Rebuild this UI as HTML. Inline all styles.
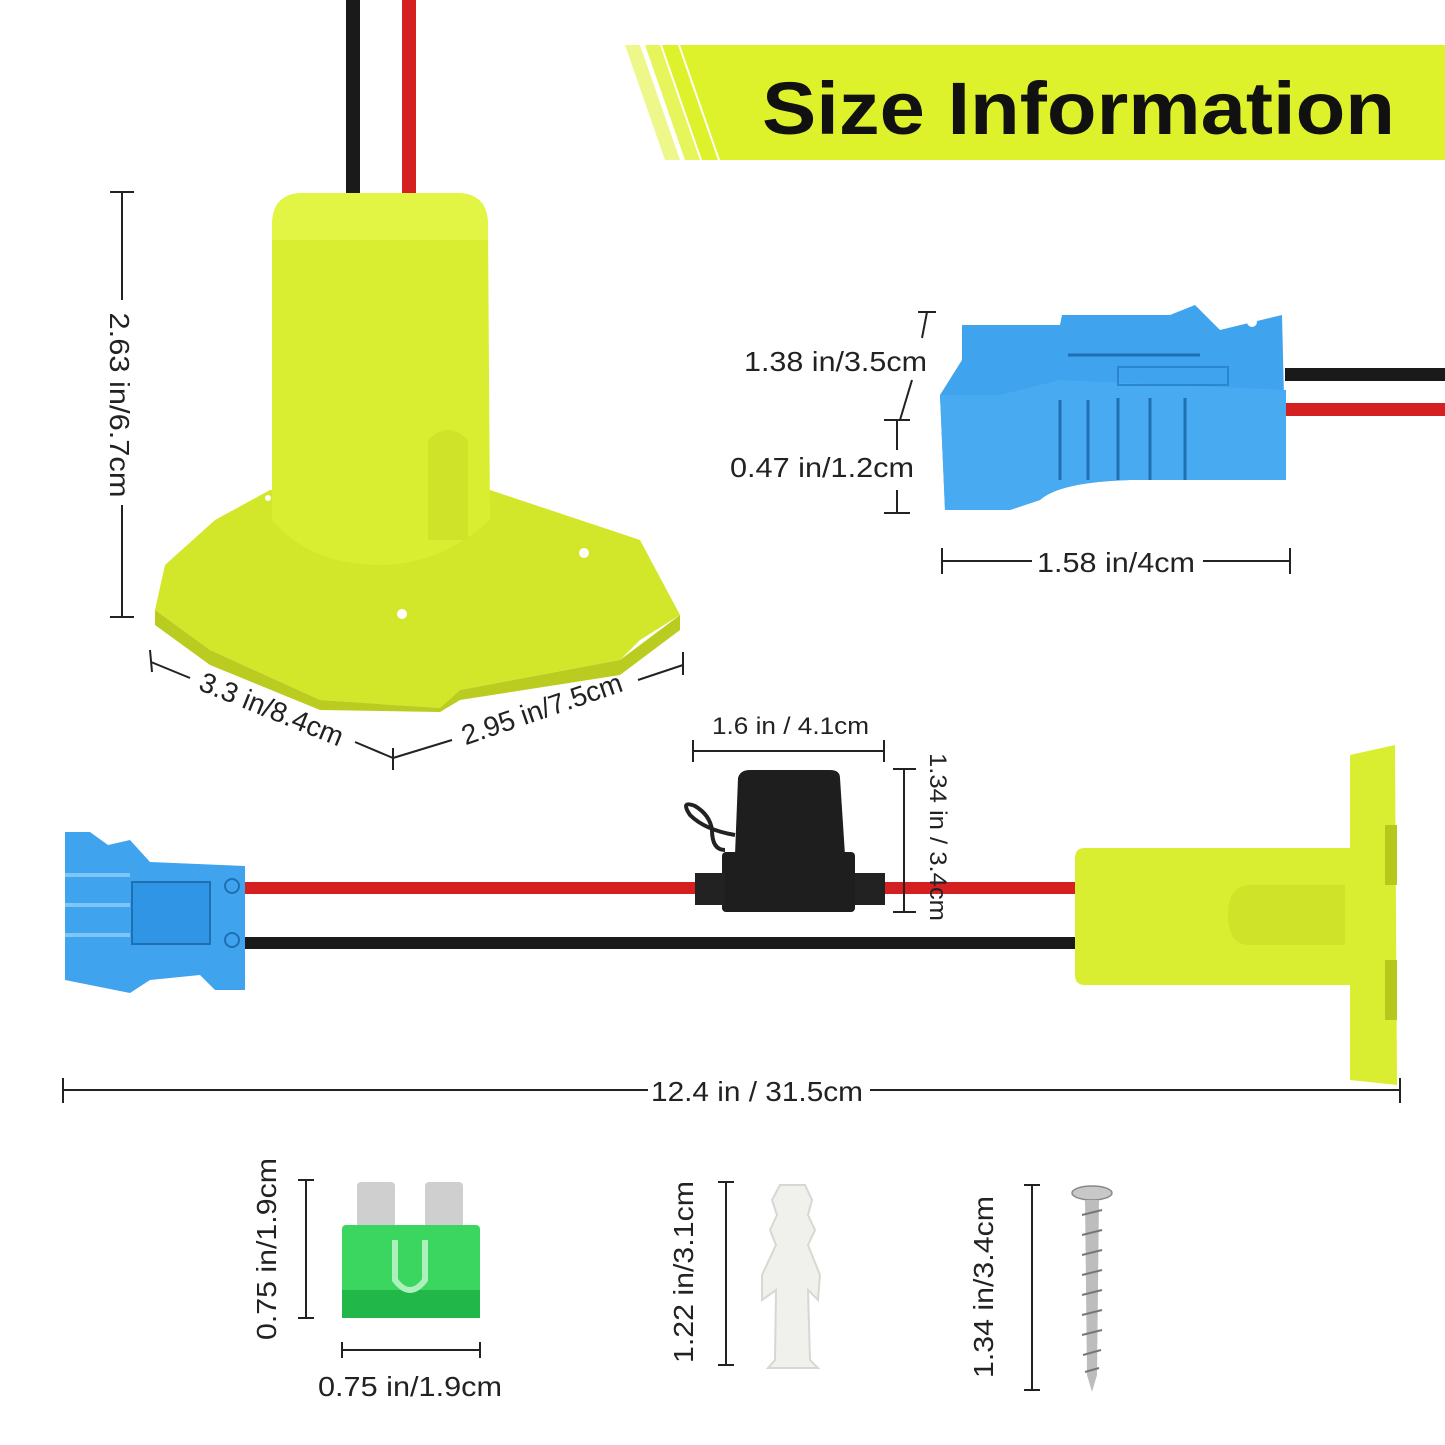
<!DOCTYPE html>
<html><head><meta charset="utf-8"><style>
html,body{margin:0;padding:0;background:#fff;}
svg{display:block;}
text{font-family:"Liberation Sans",sans-serif;fill:#222;}
</style></head><body>
<svg width="1445" height="1445" viewBox="0 0 1445 1445" xmlns="http://www.w3.org/2000/svg">
<!-- Banner -->
<polygon points="680,45 1445,45 1445,160 720,160" fill="#def22c"/>
<polygon points="625,45 640,45 680,160 665,160" fill="#eef78a"/>
<polygon points="645,45 660,45 700,160 685,160" fill="#e6f55a"/>
<polygon points="662,45 678,45 718,160 702,160" fill="#def22c"/>
<text x="762" y="134" font-size="74" font-weight="bold" textLength="633" lengthAdjust="spacingAndGlyphs" style="fill:#111">Size Information</text>

<!-- Top-left adapter -->
<rect x="346" y="0" width="14" height="215" fill="#1a1a1a"/>
<rect x="402" y="0" width="14" height="215" fill="#d42020"/>
<polygon points="215,520 270,490 490,490 640,540 680,615 640,640 620,660 460,690 440,708 320,700 210,650 155,610 165,565" fill="#d2e62a"/>
<polygon points="155,610 210,650 320,700 440,708 460,690 620,660 680,615 680,630 620,675 460,700 440,712 320,710 210,665 155,625" fill="#b9cc1f"/>
<path d="M272,225 Q272,195 300,193 L460,193 Q488,195 488,225 L490,520 Q440,565 380,565 Q310,565 272,520 Z" fill="#d9ee30"/>
<path d="M272,225 Q272,195 300,193 L460,193 Q488,195 488,225 L488,240 L272,240 Z" fill="#e2f444"/>
<path d="M428,540 L428,440 Q448,420 468,440 L468,540 Z" fill="#cfe328"/>
<circle cx="402" cy="614" r="5" fill="#fff"/><circle cx="584" cy="553" r="5" fill="#fff"/><circle cx="268" cy="498" r="3" fill="#fff"/>

<!-- Vertical dim 2.63 -->
<g stroke="#222" stroke-width="2" fill="none">
<line x1="122" y1="192" x2="122" y2="300"/><line x1="122" y1="505" x2="122" y2="617"/>
<line x1="110" y1="192" x2="134" y2="192"/><line x1="110" y1="617" x2="134" y2="617"/>
<line x1="151" y1="662" x2="190" y2="678"/><line x1="150" y1="650" x2="152" y2="672"/>
<line x1="355" y1="742" x2="393" y2="758"/><line x1="393" y1="748" x2="393" y2="770"/>
<line x1="393" y1="758" x2="452" y2="740"/><line x1="638" y1="680" x2="683" y2="665"/><line x1="683" y1="652" x2="683" y2="675"/>
</g>
<text transform="translate(110,405) rotate(90)" font-size="28" text-anchor="middle" textLength="185" lengthAdjust="spacingAndGlyphs">2.63 in/6.7cm</text>
<text transform="translate(268,718) rotate(22)" font-size="28" text-anchor="middle">3.3 in/8.4cm</text>
<text transform="translate(545,718) rotate(-19)" font-size="28" text-anchor="middle">2.95 in/7.5cm</text>

<!-- Top-right blue connector -->
<rect x="1285" y="368" width="160" height="13" fill="#1a1a1a"/>
<rect x="1285" y="403" width="160" height="13" fill="#d42020"/>
<path d="M962,325 L1060,325 L1062,315 L1170,315 L1195,305 L1220,330 L1282,315 L1286,480 L1130,480 Q1060,482 1040,500 L1010,510 L945,510 L940,395 L962,360 Z" fill="#3fa3ee"/>
<path d="M940,395 L1000,395 L1060,380 L1286,390 L1286,480 L1130,480 Q1060,482 1040,500 L1010,510 L945,510 Z" fill="#48aaf0"/>
<g stroke="#1f6fb3" stroke-width="3"><line x1="1060" y1="400" x2="1060" y2="480"/><line x1="1088" y1="400" x2="1088" y2="480"/><line x1="1118" y1="398" x2="1118" y2="480"/><line x1="1150" y1="398" x2="1150" y2="480"/><line x1="1185" y1="398" x2="1185" y2="480"/>
<line x1="1068" y1="355" x2="1200" y2="355"/></g>
<rect x="1118" y="367" width="110" height="18" fill="none" stroke="#2b86d2" stroke-width="2"/>
<circle cx="1252" cy="322" r="5" fill="#fff"/>
<g stroke="#222" stroke-width="2" fill="none">
<line x1="918" y1="312" x2="936" y2="312"/><line x1="927" y1="312" x2="922" y2="338"/><line x1="912" y1="380" x2="900" y2="420"/>
<line x1="884" y1="420" x2="910" y2="420"/><line x1="897" y1="420" x2="897" y2="450"/><line x1="897" y1="490" x2="897" y2="513"/><line x1="884" y1="513" x2="910" y2="513"/>
<line x1="942" y1="548" x2="942" y2="574"/><line x1="942" y1="561" x2="1032" y2="561"/><line x1="1203" y1="561" x2="1290" y2="561"/><line x1="1290" y1="548" x2="1290" y2="574"/>
</g>
<text x="744" y="371" font-size="28" textLength="183" lengthAdjust="spacingAndGlyphs">1.38 in/3.5cm</text>
<text x="730" y="477" font-size="28" textLength="184" lengthAdjust="spacingAndGlyphs">0.47 in/1.2cm</text>
<text x="1037" y="572" font-size="28" textLength="158" lengthAdjust="spacingAndGlyphs">1.58 in/4cm</text>

<!-- Bottom cable assembly -->
<rect x="245" y="882" width="830" height="12" fill="#d42020"/>
<rect x="245" y="937" width="830" height="12" fill="#1a1a1a"/>
<path d="M65,832 L90,832 L108,845 L130,840 L150,862 L245,866 L245,990 L215,990 L200,975 L150,980 L130,993 L90,985 L65,980 Z" fill="#3fa3ee"/>
<rect x="132" y="882" width="78" height="62" fill="#2f95e4" stroke="#1f6fb3" stroke-width="2"/>
<circle cx="232" cy="886" r="7" fill="#3fa3ee" stroke="#1f6fb3" stroke-width="2"/><circle cx="232" cy="940" r="7" fill="#3fa3ee" stroke="#1f6fb3" stroke-width="2"/>
<g stroke="#7fc6f6" stroke-width="4"><line x1="65" y1="875" x2="130" y2="875"/><line x1="65" y1="905" x2="130" y2="905"/><line x1="65" y1="935" x2="130" y2="935"/></g>
<!-- fuse holder -->
<path d="M738,778 Q740,770 750,770 L830,770 Q840,770 840,778 L845,855 L735,855 Z" fill="#1e1e1e"/>
<rect x="722" y="852" width="133" height="60" rx="4" fill="#1e1e1e"/>
<rect x="695" y="873" width="30" height="32" fill="#222"/><rect x="855" y="873" width="30" height="32" fill="#222"/>
<path d="M735,835 Q705,830 690,815 Q680,800 695,806 Q710,815 712,830 Q712,850 725,850" fill="none" stroke="#222" stroke-width="4"/>
<!-- yellow adapter right -->
<path d="M1085,848 L1350,848 L1350,985 L1085,985 Q1075,985 1075,975 L1075,858 Q1075,848 1085,848 Z" fill="#d9ee30"/>
<path d="M1250,885 L1345,885 L1345,945 L1250,945 Q1228,945 1228,915 Q1228,885 1250,885 Z" fill="#cfe328"/>
<path d="M1350,755 L1395,745 L1397,1085 L1350,1080 Z" fill="#d9ee30"/>
<rect x="1385" y="825" width="12" height="60" fill="#b5c81c"/><rect x="1385" y="960" width="12" height="60" fill="#b5c81c"/>
<g stroke="#222" stroke-width="2" fill="none">
<line x1="693" y1="740" x2="693" y2="762"/><line x1="693" y1="751" x2="884" y2="751"/><line x1="884" y1="740" x2="884" y2="762"/>
<line x1="893" y1="769" x2="916" y2="769"/><line x1="904" y1="769" x2="904" y2="912"/><line x1="893" y1="912" x2="916" y2="912"/>
<line x1="63" y1="1078" x2="63" y2="1103"/><line x1="63" y1="1090" x2="648" y2="1090"/><line x1="870" y1="1090" x2="1400" y2="1090"/><line x1="1400" y1="1078" x2="1400" y2="1103"/>
</g>
<text x="712" y="734" font-size="24" textLength="157" lengthAdjust="spacingAndGlyphs">1.6 in / 4.1cm</text>
<text transform="translate(930,837) rotate(90)" font-size="24" text-anchor="middle" textLength="168" lengthAdjust="spacingAndGlyphs">1.34 in / 3.4cm</text>
<text x="651" y="1101" font-size="28" textLength="212" lengthAdjust="spacingAndGlyphs">12.4 in / 31.5cm</text>

<!-- Green fuse -->
<rect x="357" y="1182" width="38" height="60" rx="4" fill="#cfcfcf"/><rect x="425" y="1182" width="38" height="60" rx="4" fill="#cfcfcf"/>
<rect x="342" y="1225" width="138" height="93" rx="4" fill="#3ad660"/>
<rect x="342" y="1290" width="138" height="28" fill="#22b849"/>
<path d="M395,1240 L395,1280 Q410,1300 425,1280 L425,1240" fill="none" stroke="#aef0bc" stroke-width="6"/>
<g stroke="#222" stroke-width="2" fill="none">
<line x1="298" y1="1180" x2="314" y2="1180"/><line x1="306" y1="1180" x2="306" y2="1318"/><line x1="298" y1="1318" x2="314" y2="1318"/>
<line x1="342" y1="1342" x2="342" y2="1358"/><line x1="342" y1="1350" x2="480" y2="1350"/><line x1="480" y1="1342" x2="480" y2="1358"/>
<line x1="718" y1="1182" x2="734" y2="1182"/><line x1="726" y1="1182" x2="726" y2="1365"/><line x1="718" y1="1365" x2="734" y2="1365"/>
<line x1="1024" y1="1185" x2="1040" y2="1185"/><line x1="1032" y1="1185" x2="1032" y2="1390"/><line x1="1024" y1="1390" x2="1040" y2="1390"/>
</g>
<text transform="translate(276,1249) rotate(-90)" font-size="28" text-anchor="middle" textLength="182" lengthAdjust="spacingAndGlyphs">0.75 in/1.9cm</text>
<text x="318" y="1396" font-size="28" textLength="184" lengthAdjust="spacingAndGlyphs">0.75 in/1.9cm</text>
<text transform="translate(693,1272) rotate(-90)" font-size="28" text-anchor="middle" textLength="182" lengthAdjust="spacingAndGlyphs">1.22 in/3.1cm</text>
<text transform="translate(993,1287) rotate(-90)" font-size="28" text-anchor="middle" textLength="182" lengthAdjust="spacingAndGlyphs">1.34 in/3.4cm</text>

<!-- anchor -->
<path d="M780,1185 L805,1185 L812,1200 L808,1215 L815,1230 L808,1245 L820,1275 L818,1300 L808,1290 L810,1360 L818,1368 L768,1368 L775,1360 L776,1290 L762,1300 L762,1275 L776,1245 L770,1230 L777,1215 L772,1200 Z" fill="#f0f0ec" stroke="#d8d8d2" stroke-width="2"/>
<!-- screw -->
<ellipse cx="1092" cy="1193" rx="20" ry="7" fill="#c8c8c8" stroke="#888" stroke-width="1.5"/>
<polygon points="1085,1200 1099,1200 1097,1375 1092,1392 1087,1375" fill="#bdbdbd"/>
<g stroke="#777" stroke-width="2">
<line x1="1082" y1="1215" x2="1102" y2="1210"/><line x1="1082" y1="1235" x2="1102" y2="1230"/><line x1="1082" y1="1255" x2="1102" y2="1250"/><line x1="1082" y1="1275" x2="1102" y2="1270"/><line x1="1082" y1="1295" x2="1102" y2="1290"/><line x1="1082" y1="1315" x2="1102" y2="1310"/><line x1="1082" y1="1335" x2="1102" y2="1330"/><line x1="1083" y1="1355" x2="1101" y2="1350"/><line x1="1085" y1="1372" x2="1099" y2="1368"/>
</g>
</svg>
</body></html>
